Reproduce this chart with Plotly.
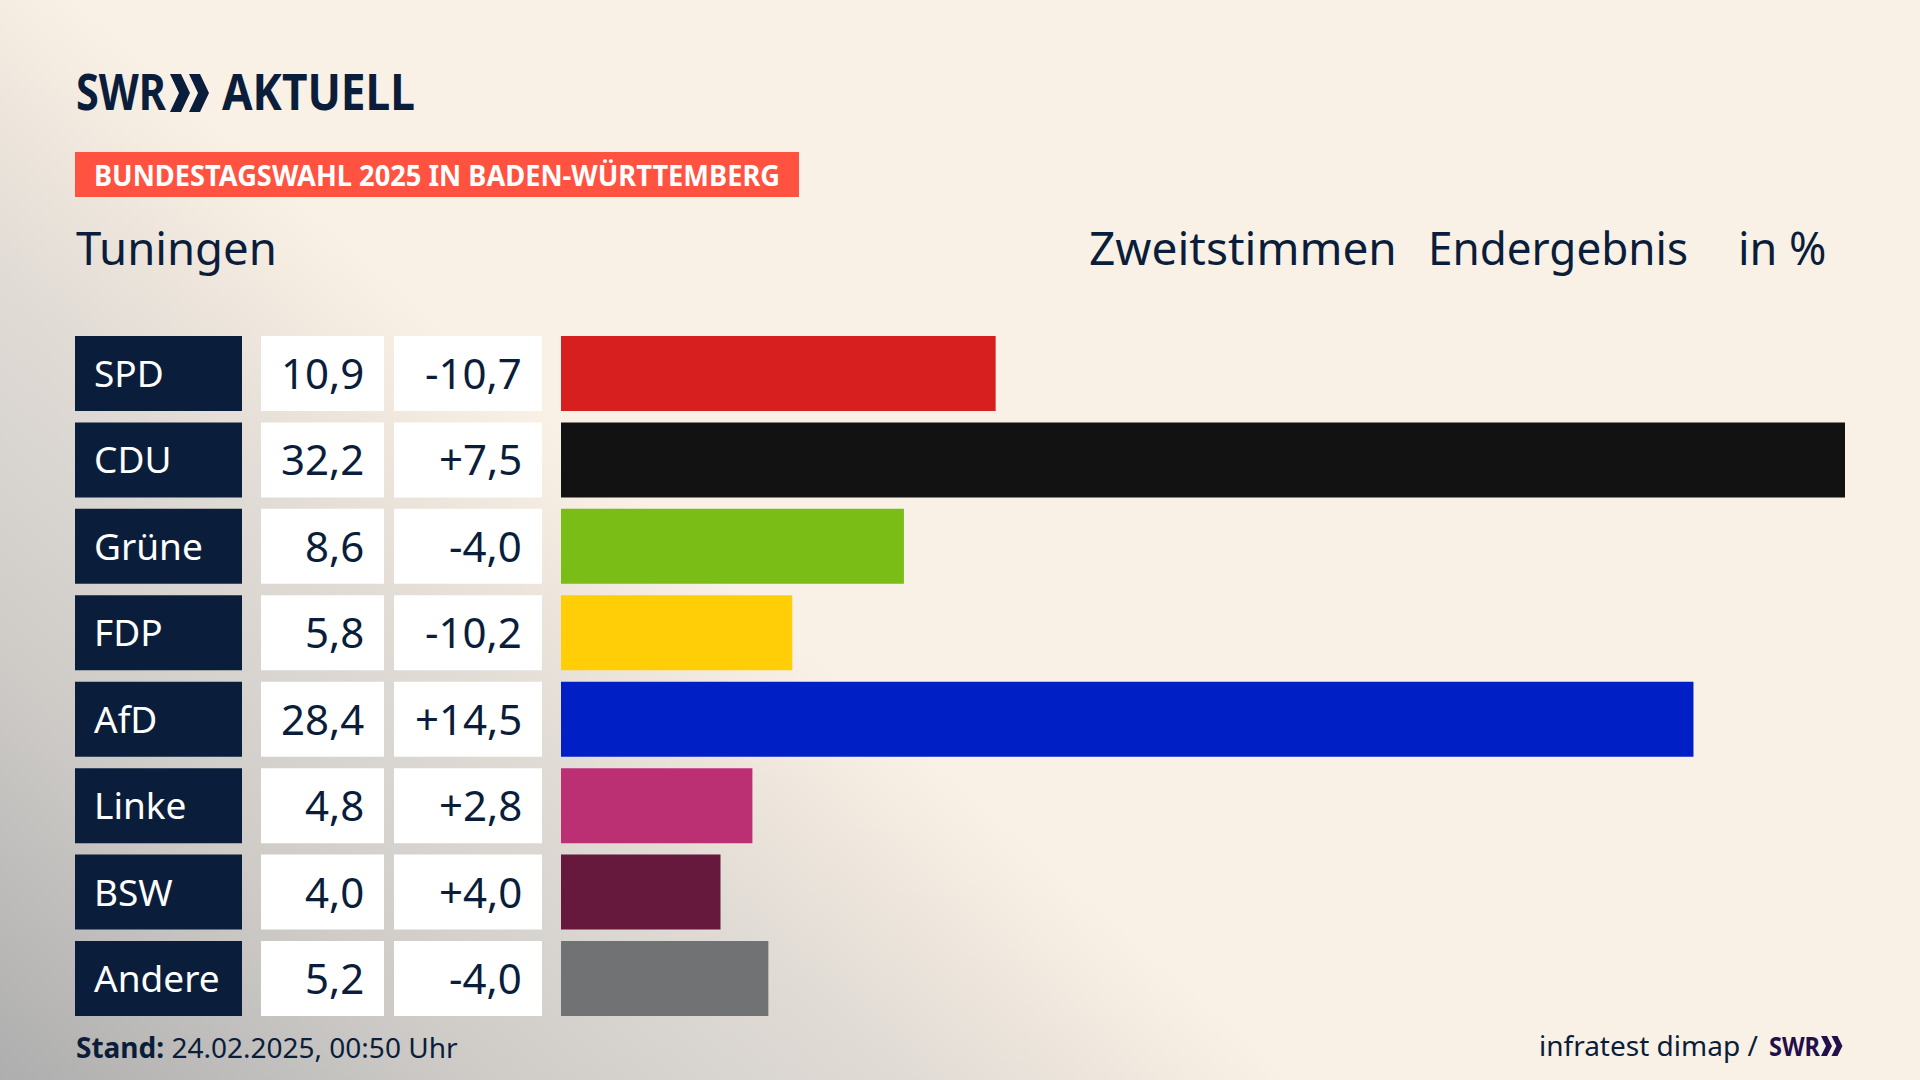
import plotly.graph_objects as go

parties = ["SPD", "CDU", "Grüne", "FDP", "AfD", "Linke", "BSW", "Andere"]
results = [10.9, 32.2, 8.6, 5.8, 28.4, 4.8, 4.0, 5.2]
changes = [-10.7, 7.5, -4.0, -10.2, 14.5, 2.8, 4.0, -4.0]
bar_colors = ["#D81F1F", "#121212", "#7ABD17", "#FFCE07", "#0020C6", "#BB2F73", "#66183D", "#707274"]

region = "Tuningen"
tag = "BUNDESTAGSWAHL 2025 IN BADEN-WÜRTTEMBERG"
stand = "24.02.2025, 00:50 Uhr"

W, H = 1920, 1080
NAVY = "#0A1E3C"
SANS = "Noto Sans"


def px(x):
    return x / W


def py(y):
    return 1 - y / H


def label(x, y, text, size, color=NAVY, anchor="left"):
    return dict(x=px(x), y=py(y), xref="paper", yref="paper", text=text, showarrow=False,
                xanchor=anchor, yanchor="middle", align=anchor,
                font=dict(family=SANS, size=size, color=color))


def chevrons(x, top, bottom, width, thick, color):
    # the two arrows of the SWR logo
    mid = (top + bottom) / 2
    path = ""
    for off in (0, width * 0.95):
        pts = [(x + off, top), (x + off + thick, top), (x + off + width, mid),
               (x + off + thick, bottom), (x + off, bottom), (x + off + width - thick, mid)]
        path += "M" + " L".join(f"{px(a):.5f},{py(b):.5f}" for a, b in pts) + " Z "
    return dict(type="path", xref="paper", yref="paper", path=path, fillcolor=color, line_width=0)


def sign(v):
    return f"{v:+.1f}".replace(".", ",")


fig = go.Figure(go.Bar(y=parties, x=results, orientation="h", marker=dict(color=bar_colors, line_width=0),
                       hoverinfo="skip"))

shapes = []
annotations = []
half = 0.434
for i, name in enumerate(parties):
    for x0, x1, col in [(75, 242, NAVY), (261, 384, "white"), (394, 542, "white")]:
        shapes.append(dict(type="rect", xref="paper", yref="y", x0=px(x0), x1=px(x1), y0=i - half, y1=i + half,
                           fillcolor=col, line_width=0, layer="below"))
    annotations.append(dict(x=px(92), y=name, xref="paper", yref="y", yshift=1, text=name, showarrow=False,
                            xanchor="left", font=dict(family=SANS, size=37, color="white")))
    annotations.append(dict(x=px(366), y=name, xref="paper", yref="y", yshift=1,
                            text=f"{results[i]:.1f}".replace(".", ","),
                            showarrow=False, xanchor="right", font=dict(family=SANS, size=42, color=NAVY)))
    annotations.append(dict(x=px(524), y=name, xref="paper", yref="y", yshift=1, text=sign(changes[i]),
                            showarrow=False, xanchor="right", font=dict(family=SANS, size=42, color=NAVY)))

# header
shapes.append(dict(type="rect", xref="paper", yref="paper", x0=px(75), x1=px(799), y0=py(197), y1=py(152),
                   fillcolor="#FF5240", line_width=0))
shapes.append(chevrons(170, 74, 112, 20, 11, NAVY))
shapes.append(chevrons(1821, 1036, 1056, 11, 6, "#23104A"))
annotations += [
    label(74, 91, "<b>SWR</b>", 50),
    label(220, 91, "<b>AKTUELL</b>", 50),
    label(92, 175, f"<b>{tag}</b>", 29, color="white"),
    label(74, 247, region, 45.5),
    label(1087, 247, "Zweitstimmen", 46),
    label(1426, 247, "Endergebnis", 45),
    label(1736, 247, "in %", 45),
    label(74, 1047, f"<b>Stand:</b> {stand}", 28),
    label(1537, 1045, "infratest dimap /", 28),
    label(1767, 1045, "<b>SWR</b>", 27, color="#23104A"),
]

fig.update_layout(
    width=W, height=H, margin=dict(l=0, r=0, t=0, b=0),
    paper_bgcolor="rgba(0,0,0,0)", plot_bgcolor="rgba(0,0,0,0)",
    showlegend=False, bargap=0.132, shapes=shapes, annotations=annotations,
    xaxis=dict(domain=[px(561), px(1845)], range=[0, 32.2], visible=False),
    yaxis=dict(domain=[py(1021.7), py(330.3)], range=[7.5, -0.5], visible=False, type="category",
               categoryorder="array", categoryarray=parties),
)

# the original uses a condensed face, so squeeze these texts to the measured widths
page_js = """
document.body.style.margin = '0';
document.body.style.overflow = 'hidden';
document.body.style.backgroundColor = '#FAF1E6';
document.body.style.backgroundImage =
  'linear-gradient(41.5deg, #AEAEAE 0px, #CFCCC8 327px, #E0DBD5 603px, #EEE6DC 732px, #FAF1E6 861px)';
var fits = {'SWR|50px': 90, 'AKTUELL|50px': 193, 'SWR|27px': 51, 'Endergebnis|45px': 260,
            'BUNDESTAGSWAHL 2025 IN BADEN-WÜRTTEMBERG|29px': 686};
function squeeze() {
  document.querySelectorAll('.annotation-text').forEach(function (el) {
    var w = fits[el.textContent + '|' + el.style.fontSize];
    if (w) {
      el.setAttribute('textLength', w);
      el.setAttribute('lengthAdjust', 'spacingAndGlyphs');
    }
  });
}
squeeze();
setTimeout(squeeze, 50);
"""
fig.write_html("out.html", post_script=page_js, config=dict(displayModeBar=False))
